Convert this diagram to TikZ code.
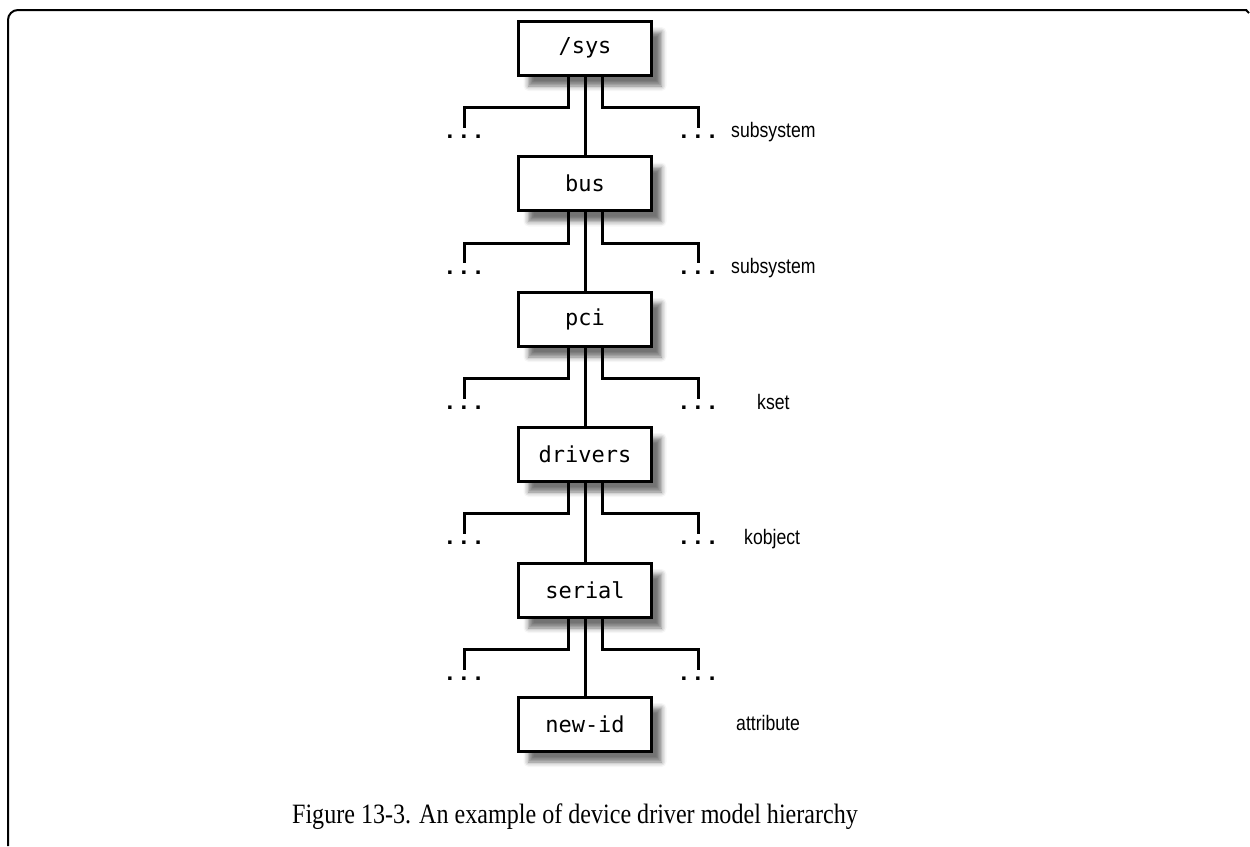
\documentclass[tikz,border=0pt]{standalone}
\usepackage{fontspec}
\setmainfont{Liberation Serif}
\newfontfamily\boxfont{DejaVu Sans Mono}
\newfontfamily\labfont[FakeStretch=0.84]{Liberation Sans}
\newfontfamily\dotfont{Liberation Sans}
\newfontfamily\capfont[FakeStretch=0.86]{Liberation Serif}
\usetikzlibrary{shadows.blur}
\tikzset{
  dirbox/.style={draw, line width=3pt, fill=white, minimum width=133pt, minimum height=54pt, inner sep=0pt,
    font=\boxfont\fontsize{22}{24}\selectfont,
    blur shadow={shadow xshift=10pt, shadow yshift=-11pt, shadow blur radius=5pt, shadow opacity=55}},
  conn/.style={line width=3pt},
  dots/.style={anchor=base, inner sep=0pt, font=\dotfont\bfseries\fontsize{24}{26}\selectfont},
  lab/.style={anchor=base west, inner sep=0pt, font=\labfont\fontsize{21}{23}\selectfont},
  frame/.style={line width=2pt}
}
\begin{document}
\begin{tikzpicture}[x=1pt,y=-1pt]
\useasboundingbox (0,0) rectangle (1250,846);
\draw[frame, rounded corners=10pt] (8,846) -- (8,10) -- (1247,10);
\draw[frame] (1246,10) -- (1249,13);
% boxes
\node[dirbox] (b0) at (585,48) {/sys};
\node[dirbox] (b1) at (585,183.5) {bus};
\node[dirbox] (b2) at (585,319) {pci};
\node[dirbox] (b3) at (585,454) {drivers};
\node[dirbox] (b4) at (585,590) {serial};
\node[dirbox] (b5) at (585,724) {new-id};
% vertical links
\draw[conn] (b0) -- (b1);
\draw[conn] (b1) -- (b2);
\draw[conn] (b2) -- (b3);
\draw[conn] (b3) -- (b4);
\draw[conn] (b4) -- (b5);
% branches
\foreach \i in {0,...,4}{
  \path (b\i.south) ++(-121,31) coordinate (lt\i) ++(0,20) coordinate (le\i);
  \path (b\i.south) ++(113,31) coordinate (rt\i) ++(0,20) coordinate (re\i);
  \draw[conn] ([xshift=-17pt]b\i.south) |- (lt\i) -- (le\i);
  \draw[conn] ([xshift=17pt]b\i.south) |- (rt\i) -- (re\i);
  \node[dots] (ld\i) at ([yshift=-11pt]le\i) {.\kern7.5pt.\kern7.5pt.};
  \node[dots] (rd\i) at ([yshift=-11pt]re\i) {.\kern7.5pt.\kern7.5pt.};
}
% labels
\node[lab] (s0) at (731,137) {subsystem};
\node[lab] (s1) at (731,273) {subsystem};
\node[lab] (s2) at (757,409) {kset};
\node[lab] (s3) at (744,544) {kobject};
\node[lab] (s4) at (736,730) {attribute};
% caption
\node[inner sep=0pt, anchor=base, font=\capfont\fontsize{28}{30}\selectfont] (cap) at (575,823) {Figure 13-3. An example of device driver model hierarchy};
\end{tikzpicture}
\end{document}
